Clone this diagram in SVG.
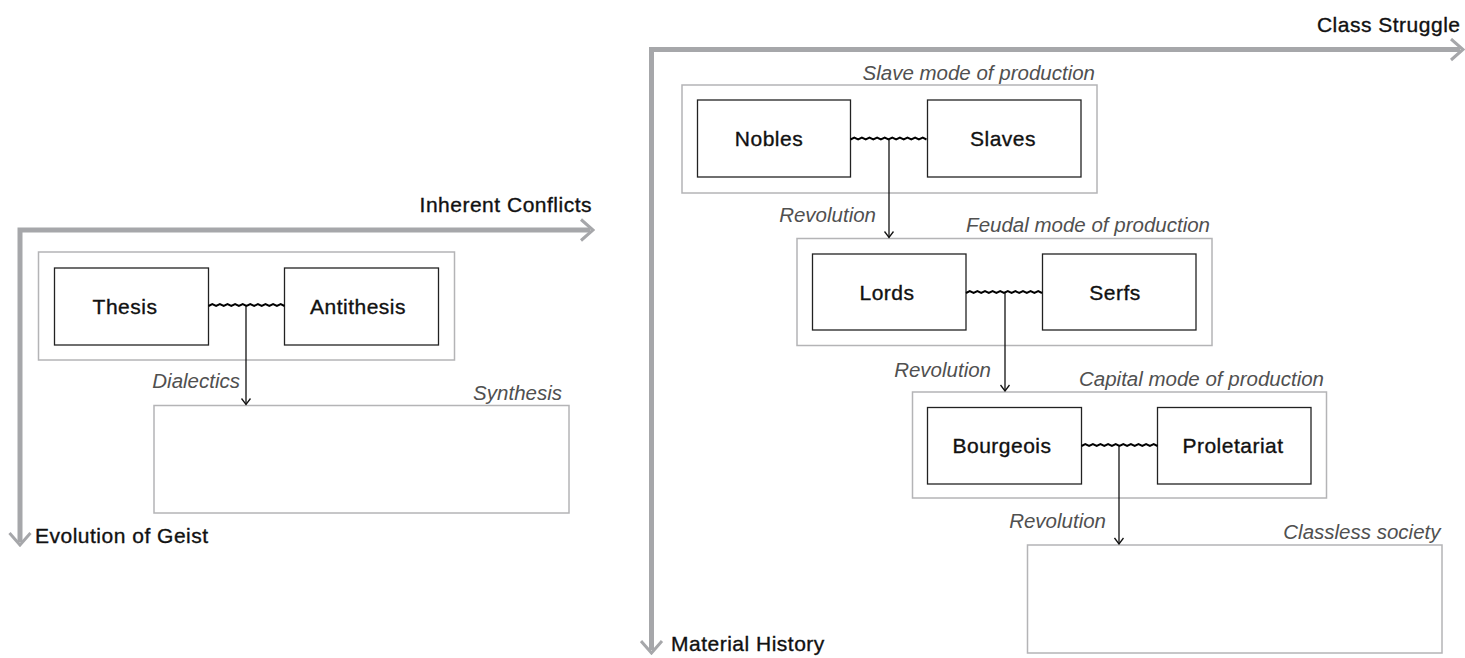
<svg xmlns="http://www.w3.org/2000/svg" width="1465" height="658" viewBox="0 0 1465 658">
  <defs>
    <style>
      .axis { fill: none; stroke: #a6a7aa; stroke-width: 5; stroke-linejoin: miter; }
      .axis-label { font-family: "Liberation Sans", Arial, sans-serif; font-size: 21px; fill: #111; stroke: #111; stroke-width: 0.35; letter-spacing: 0.5px; }
      .group-box { fill: none; stroke: #b4b4b6; stroke-width: 1.5; }
      .node-box { fill: #fff; stroke: #222; stroke-width: 1.3; }
      .node-label { font-family: "Liberation Sans", Arial, sans-serif; font-size: 21px; fill: #111; stroke: #111; stroke-width: 0.35; letter-spacing: 0.5px; text-anchor: middle; }
      .caption { font-family: "Liberation Sans", Arial, sans-serif; font-size: 20.5px; font-style: italic; fill: #505050; text-anchor: end; }
      .link { fill: none; stroke: #111; stroke-width: 1.3; }
      .conflict { fill: none; stroke: #000; stroke-width: 2; stroke-linejoin: miter; }
    </style>
    <!-- small open arrowhead for transition links -->
    <marker id="tip" viewBox="0 0 8 10" refX="7" refY="5" markerWidth="8" markerHeight="10" markerUnits="userSpaceOnUse" orient="auto">
      <path d="M1,0.5 L7,5 L1,9.5" fill="none" stroke="#111" stroke-width="1.3"/>
    </marker>
    <!-- large open arrowhead for the axes -->
    <marker id="axis-tip" viewBox="0 0 16 24" refX="11" refY="12" markerWidth="16" markerHeight="24" markerUnits="userSpaceOnUse" orient="auto-start-reverse">
      <path d="M2,1.5 L14,12 L2,22.5" fill="none" stroke="#a6a7aa" stroke-width="3"/>
    </marker>
  </defs>

  <!-- Hegel: axes -->
  <g id="hegel-axes">
    <path class="axis" d="M20,542 L20,230 L590,230" marker-start="url(#axis-tip)" marker-end="url(#axis-tip)"/>
    <text class="axis-label" x="592" y="212" text-anchor="end">Inherent Conflicts</text>
    <text class="axis-label" x="35" y="543">Evolution of Geist</text>
  </g>

  <!-- Marx: axes -->
  <g id="marx-axes">
    <path class="axis" d="M651.5,650 L651.5,49.5 L1460,49.5" marker-start="url(#axis-tip)" marker-end="url(#axis-tip)"/>
    <text class="axis-label" x="1460.5" y="32" text-anchor="end">Class Struggle</text>
    <text class="axis-label" x="671" y="651">Material History</text>
  </g>

  <!-- Hegel: dialectic -->
  <g id="dialectic">
    <rect class="group-box" x="38.5" y="252" width="416" height="108"/>
  </g>
  <g id="thesis">
    <rect class="node-box" x="54.5" y="268" width="154" height="77"/>
    <text class="node-label" x="125" y="314">Thesis</text>
  </g>
  <g id="antithesis">
    <rect class="node-box" x="284.5" y="268" width="154" height="77"/>
    <text class="node-label" x="358" y="314">Antithesis</text>
  </g>
  <g id="synthesis">
    <rect class="group-box" x="154" y="405.5" width="415" height="107.5"/>
    <text class="caption" x="562" y="400">Synthesis</text>
  </g>

  <!-- Marx: modes of production -->
  <g id="slave-mode">
    <rect class="group-box" x="682" y="85" width="415" height="108"/>
    <text class="caption" x="1095" y="80">Slave mode of production</text>
  </g>
  <g id="nobles">
    <rect class="node-box" x="697.5" y="100" width="153" height="77"/>
    <text class="node-label" x="769" y="146">Nobles</text>
  </g>
  <g id="slaves">
    <rect class="node-box" x="927.5" y="100" width="153.5" height="77"/>
    <text class="node-label" x="1003" y="146">Slaves</text>
  </g>

  <g id="feudal-mode">
    <rect class="group-box" x="797" y="238.5" width="415" height="107"/>
    <text class="caption" x="1210" y="231.5">Feudal mode of production</text>
  </g>
  <g id="lords">
    <rect class="node-box" x="812.5" y="254" width="153.5" height="76"/>
    <text class="node-label" x="887" y="299.5">Lords</text>
  </g>
  <g id="serfs">
    <rect class="node-box" x="1042.5" y="254" width="153.5" height="76"/>
    <text class="node-label" x="1115" y="299.5">Serfs</text>
  </g>

  <g id="capital-mode">
    <rect class="group-box" x="912.5" y="392" width="414" height="106"/>
    <text class="caption" x="1324" y="386">Capital mode of production</text>
  </g>
  <g id="bourgeois">
    <rect class="node-box" x="927.5" y="407.5" width="154" height="76.5"/>
    <text class="node-label" x="1002" y="452.5">Bourgeois</text>
  </g>
  <g id="proletariat">
    <rect class="node-box" x="1157.5" y="407.5" width="153.5" height="76.5"/>
    <text class="node-label" x="1233" y="452.5">Proletariat</text>
  </g>

  <g id="classless-society">
    <rect class="group-box" x="1027.5" y="545" width="414.5" height="108"/>
    <text class="caption" x="1440.5" y="539">Classless society</text>
  </g>

  <!-- connectors: wavy antagonisms between classes, then transitions -->
  <g id="connectors">
    <path class="conflict" d="M208.5,306 l3.8,-1.8 l3.8,1.8 l3.8,-1.8 l3.8,1.8 l3.8,-1.8 l3.8,1.8 l3.8,-1.8 l3.8,1.8 l3.8,-1.8 l3.8,1.8 l3.8,-1.8 l3.8,1.8 l3.8,-1.8 l3.8,1.8 l3.8,-1.8 l3.8,1.8 l3.8,-1.8 l3.8,1.8 l3.8,-1.8 l3.8,1.8"/>
    <path class="conflict" d="M850.5,139.5 l3.8,-1.8 l3.8,1.8 l3.8,-1.8 l3.8,1.8 l3.8,-1.8 l3.8,1.8 l3.8,-1.8 l3.8,1.8 l3.8,-1.8 l3.8,1.8 l3.8,-1.8 l3.8,1.8 l3.8,-1.8 l3.8,1.8 l3.8,-1.8 l3.8,1.8 l3.8,-1.8 l3.8,1.8 l3.8,-1.8 l3.8,1.8"/>
    <path class="conflict" d="M966,293 l3.8,-1.8 l3.8,1.8 l3.8,-1.8 l3.8,1.8 l3.8,-1.8 l3.8,1.8 l3.8,-1.8 l3.8,1.8 l3.8,-1.8 l3.8,1.8 l3.8,-1.8 l3.8,1.8 l3.8,-1.8 l3.8,1.8 l3.8,-1.8 l3.8,1.8 l3.8,-1.8 l3.8,1.8 l3.8,-1.8 l3.8,1.8"/>
    <path class="conflict" d="M1081.5,446 l3.8,-1.8 l3.8,1.8 l3.8,-1.8 l3.8,1.8 l3.8,-1.8 l3.8,1.8 l3.8,-1.8 l3.8,1.8 l3.8,-1.8 l3.8,1.8 l3.8,-1.8 l3.8,1.8 l3.8,-1.8 l3.8,1.8 l3.8,-1.8 l3.8,1.8 l3.8,-1.8 l3.8,1.8 l3.8,-1.8 l3.8,1.8"/>

    <path class="link" d="M246,306 L246,404.5" marker-end="url(#tip)"/>
    <path class="link" d="M889,139.5 L889,237.5" marker-end="url(#tip)"/>
    <path class="link" d="M1005,293 L1005,391" marker-end="url(#tip)"/>
    <path class="link" d="M1119,446 L1119,544" marker-end="url(#tip)"/>

    <text class="caption" x="240" y="388">Dialectics</text>
    <text class="caption" x="876" y="222">Revolution</text>
    <text class="caption" x="991" y="376.5">Revolution</text>
    <text class="caption" x="1106" y="528">Revolution</text>
  </g>
</svg>
